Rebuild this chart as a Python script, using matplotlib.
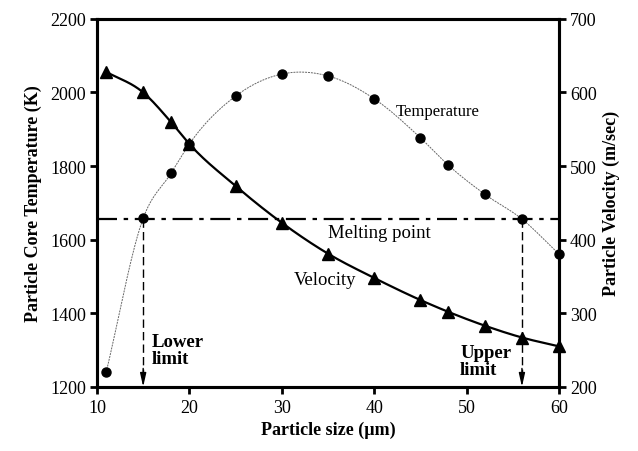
import numpy as np
import matplotlib.pyplot as plt

plt.rcParams['font.family'] = ['Liberation Serif', 'DejaVu Serif']

# Particle size (um) and the two measured series
size = [11, 15, 18, 20, 25, 30, 35, 40, 45, 48, 52, 56, 60]
temperature = [1240, 1658, 1780, 1860, 1990, 2050, 2045, 1983, 1877, 1803, 1723, 1656, 1561]
velocity = [628, 600, 560, 530, 473, 423, 381, 348, 318, 302, 283, 267, 255]

melting_point = 1655
lower_limit = 15
upper_limit = 56


def smooth(x, y, n=30):
    # cubic Hermite curve through the points (slopes from neighbours), for drawing
    x = np.asarray(x, float)
    y = np.asarray(y, float)
    h = np.diff(x)
    d = np.diff(y) / h
    m = np.empty_like(y)
    m[0], m[-1] = d[0], d[-1]
    m[1:-1] = (h[1:] * d[:-1] + h[:-1] * d[1:]) / (h[:-1] + h[1:])
    xs, ys = [], []
    t = np.linspace(0, 1, n, endpoint=False)
    for i in range(len(h)):
        h00 = 2 * t**3 - 3 * t**2 + 1
        h10 = t**3 - 2 * t**2 + t
        h01 = -2 * t**3 + 3 * t**2
        h11 = t**3 - t**2
        xs.extend(x[i] + t * h[i])
        ys.extend(h00 * y[i] + h10 * h[i] * m[i] + h01 * y[i + 1] + h11 * h[i] * m[i + 1])
    xs.append(x[-1])
    ys.append(y[-1])
    return np.array(xs), np.array(ys)


fig = plt.figure(figsize=(6.38, 4.52), dpi=100)
ax = fig.add_axes([0.152, 0.142, 0.724, 0.814])
ax2 = ax.twinx()

# Temperature: thin curve with circles
tx, ty = smooth(size, temperature)
ax.plot(tx, ty, color='0.4', lw=0.7, ls=(0, (2, 1)))
ax.plot(size, temperature, 'o', color='black', ms=6.5, clip_on=False, zorder=5)

# Melting point line
ax.plot([10, 60], [melting_point, melting_point], color='black', lw=1.6,
        ls=(0, (9, 3, 2, 3)))

# Lower / upper limit arrows
for xl in (lower_limit, upper_limit):
    ax.plot([xl, xl], [melting_point, 1235], color='black', lw=1.0,
            ls=(0, (6, 3)))
    ax.annotate('', xy=(xl, 1200), xytext=(xl, 1250),
                arrowprops=dict(arrowstyle='-|>,head_length=0.8,head_width=0.18',
                                color='black', lw=1.0, shrinkA=0, shrinkB=0))

# Velocity: thick curve with triangles
vx, vy = smooth(size, velocity)
ax2.plot(vx, vy, color='black', lw=1.6)
ax2.plot(size, velocity, '^', color='black', ms=9, clip_on=False, zorder=5)

ax.set_xlim(10, 60)
ax.set_ylim(1200, 2200)
ax2.set_ylim(200, 700)
ax.set_xticks([10, 20, 30, 40, 50, 60])
ax.set_yticks([1200, 1400, 1600, 1800, 2000, 2200])
ax2.set_yticks([200, 300, 400, 500, 600, 700])

for a in (ax, ax2):
    for s in a.spines.values():
        s.set_linewidth(2.2)
    a.tick_params(direction='out', length=5, width=2, labelsize=13, pad=3)
ax.tick_params(axis='x', pad=4)

ax.set_xlabel('Particle size (\u00b5m)', fontsize=13, fontweight='bold', labelpad=3)
ax.set_ylabel('Particle Core Temperature (K)', fontsize=13, fontweight='bold', labelpad=6)
ax2.set_ylabel('Particle Velocity (m/sec)', fontsize=13, fontweight='bold', labelpad=4)

ax.text(46.9, 1950, 'Temperature', fontsize=12, ha='center', va='center')
ax.text(40.6, 1620, 'Melting point', fontsize=13.5, ha='center', va='center')
ax.text(34.7, 1493, 'Velocity', fontsize=13.5, ha='center', va='center')
ax.text(15.9, 1300, 'Lower\nlimit', fontsize=13.5, fontweight='bold',
        ha='left', va='center', linespacing=1.0)
ax.text(49.3, 1270, 'Upper\nlimit', fontsize=13.5, fontweight='bold',
        ha='left', va='center', linespacing=1.0)

fig.savefig('out.png', dpi=100)
